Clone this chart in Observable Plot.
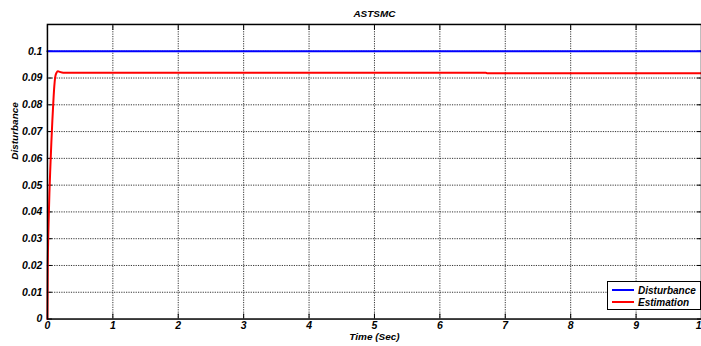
<!DOCTYPE html>
<html>
<head>
<meta charset="utf-8">
<script src="https://cdn.jsdelivr.net/npm/d3@7"></script>
<script src="https://cdn.jsdelivr.net/npm/@observablehq/plot@0.6"></script>
<style>
  html, body { margin: 0; padding: 0; background: #fff; overflow: hidden; }
  #wrap { position: relative; width: 701px; height: 346px; }
  #legend { position: absolute; left: 607px; top: 281px; width: 92px; height: 27px; border: 1.5px solid #000; background: #fff;
    font-family: "Liberation Sans", Arial, sans-serif; font-weight: bold; font-style: italic; font-size: 10px; }
  .row { position: absolute; left: 4px; height: 12px; display: flex; align-items: center; }
  .sw { width: 22px; height: 0; border-top: 2px solid; margin-right: 4px; }
</style>
</head>
<body>
<div id="wrap"><div id="legend"></div></div>
<script>
const title = "ASTSMC";
const xLabel = "Time (Sec)";
const yLabel = "Disturbance";
const xTicks = [0, 1, 2, 3, 4, 5, 6, 7, 8, 9, 10];
const yTicks = [0, 0.01, 0.02, 0.03, 0.04, 0.05, 0.06, 0.07, 0.08, 0.09, 0.1];
const seriesNames = ["Disturbance", "Estimation"];
const seriesColors = ["#0000ff", "#ff0000"];
const disturbanceT = [0, 10];
const disturbanceV = [0.1, 0.1];
const estimationT = [0, 0.005, 0.01, 0.02, 0.03, 0.045, 0.06, 0.075, 0.09, 0.105, 0.12, 0.14, 0.16, 0.18, 0.2, 0.24, 0.3, 6.7, 6.72, 10];
const estimationV = [0, 0.02, 0.028, 0.038, 0.047, 0.057, 0.066, 0.074, 0.081, 0.087, 0.0905, 0.0920, 0.0925, 0.0924, 0.0922, 0.0920, 0.0920, 0.0920, 0.0918, 0.0918];

const dist = disturbanceT.map((t, i) => ({t, v: disturbanceV[i]}));
const est = estimationT.map((t, i) => ({t, v: estimationV[i]}));

const font = '"Liberation Sans", Arial, sans-serif';
const yFmt = d => d === 0 ? "0" : String(+d.toFixed(2));
const blank = () => "";

const chart = Plot.plot({
  width: 702,
  height: 346,
  marginLeft: 47,
  marginRight: 0,
  marginTop: 24,
  marginBottom: 27,
  style: {fontFamily: font, fontWeight: "bold", fontStyle: "italic", fontSize: "10px", background: "transparent", overflow: "visible"},
  x: {domain: [0, 10]},
  y: {domain: [0, 0.11]},
  marks: [
    Plot.gridX(xTicks.slice(1, -1), {stroke: "#000", strokeOpacity: 1, strokeWidth: 0.8, strokeDasharray: "1.2,1.2"}),
    Plot.gridY(yTicks.slice(1), {stroke: "#000", strokeOpacity: 1, strokeWidth: 0.8, strokeDasharray: "1.2,1.2"}),
    Plot.axisX(xTicks, {anchor: "bottom", tickSize: 0, tickPadding: 3, label: null, fill: "#000", fontSize: 10.5}),
    Plot.axisY(yTicks, {anchor: "left", tickSize: 0, tickPadding: 5, tickFormat: yFmt, label: null, fill: "#000", fontSize: 10.5}),
    Plot.axisX(xTicks, {anchor: "bottom", tickSize: -5, tickFormat: blank, label: null, stroke: "#000"}),
    Plot.axisX(xTicks, {anchor: "top", tickSize: -5, tickFormat: blank, label: null, stroke: "#000"}),
    Plot.axisY(yTicks, {anchor: "left", tickSize: -5, tickFormat: blank, label: null, stroke: "#000"}),
    Plot.axisY(yTicks, {anchor: "right", tickSize: -5, tickFormat: blank, label: null, stroke: "#000"}),
    Plot.line(dist, {x: "t", y: "v", stroke: seriesColors[0], strokeWidth: 2}),
    Plot.line(est, {x: "t", y: "v", stroke: seriesColors[1], strokeWidth: 2, curve: "monotone-x"}),
    Plot.frame({stroke: "#000", strokeWidth: 1.5}),
    Plot.text([title], {frameAnchor: "top", dy: -15, fontSize: 10}),
    Plot.text([xLabel], {frameAnchor: "bottom", dy: 21, fontSize: 10}),
    Plot.text([yLabel], {frameAnchor: "left", rotate: -90, dx: -33, dy: -12, fontSize: 10})
  ]
});
document.getElementById("wrap").prepend(chart);

const legend = document.getElementById("legend");
seriesNames.forEach((n, i) => {
  const r = document.createElement("div");
  r.className = "row";
  r.style.top = (2 + i * 12) + "px";
  r.innerHTML = `<span class="sw" style="border-color:${seriesColors[i]}"></span><span>${n}</span>`;
  legend.appendChild(r);
});
</script>
</body>
</html>
